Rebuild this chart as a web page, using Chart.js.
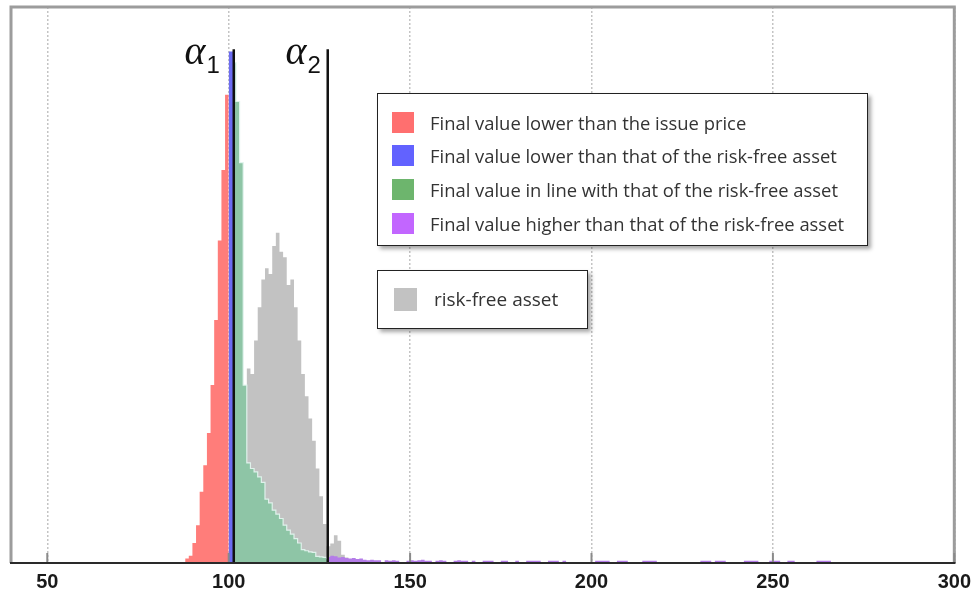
<!DOCTYPE html>
<html>
<head>
<meta charset="utf-8">
<script src="https://cdn.jsdelivr.net/npm/chart.js@4.4.0/dist/chart.umd.min.js"></script>
<style>
  body { margin: 0; background: #fff; }
  #wrap { position: relative; width: 978px; height: 594px; }
  .key { position: absolute; background: #fff; border: 1.5px solid #222; box-shadow: 3px 3px 4px rgba(0,0,0,0.35); font-family: 'Open Sans', sans-serif; color: #333; }
  .row { position: absolute; height: 22px; display: flex; align-items: center; white-space: nowrap; }
  .sw { flex: none; }
</style>
</head>
<body>
<div id="wrap">
  <canvas id="chart" width="978" height="594"></canvas>
  <div id="key1" class="key" style="left:377px;top:93px;width:489px;height:151px"></div>
  <div id="key2" class="key" style="left:377px;top:270px;width:209px;height:57px"></div>
</div>
<script>
const xTicks = [50, 100, 150, 200, 250, 300]
const issuePrice = 100
const alpha1 = 101.4
const alpha2 = 127.3
const alphaTop = 92.4

const seriesLabels = [
  'Final value lower than the issue price',
  'Final value lower than that of the risk-free asset',
  'Final value in line with that of the risk-free asset',
  'Final value higher than that of the risk-free asset'
]
const seriesColors = ['#ff7d7a', '#6c6cf2', '#8ec5a6', '#b47ce8']
const keyColors = ['#ff6f6f', '#6262ff', '#6db56d', '#c266ff']
const riskFreeLabel = 'risk-free asset'
const riskFreeColor = '#c2c2c2'

// histogram bins: left edge of each unit-wide bin and its height
const redBins = [88, 89, 90, 91, 92, 93, 94, 95, 96, 97, 98, 99]
const redCounts = [0.8, 1.3, 3.6, 6.8, 12.8, 17.6, 23.4, 32, 43.7, 58, 70.7, 84.2]

const blueBins = [100, 101]
const blueCounts = [92, 92]

const greenBins = [101, 102, 103, 104, 105, 106, 107, 108, 109, 110, 111, 112, 113, 114,
  115, 116, 117, 118, 119, 120, 121, 122, 123, 124, 125, 126, 127]
const greenCounts = [90, 83, 72, 32, 18, 17, 16.4, 15.5, 14.5, 11.5, 10.8, 9.5, 8.8, 8,
  6.8, 5.9, 5.2, 4.4, 3.6, 2.4, 2.2, 2, 1.9, 1.2, 1.1, 1, 0.8]

const purpleBins = [127, 128, 129, 130, 131, 132, 133, 134, 135, 136, 137, 138, 139, 140, 141,
  143, 144, 145, 146, 149, 150, 151, 152, 153, 154, 155, 157, 158, 159,
  162, 163, 164, 165, 167, 170, 171, 172, 175, 176, 179, 182, 183, 184, 185,
  188, 189, 190, 192, 201, 202, 203, 204, 207, 208, 209, 214, 215, 216, 217,
  230, 231, 232, 234, 235, 236, 242, 243, 244, 245, 249, 250, 251, 254, 255,
  262, 263, 264, 265]
const purpleCounts = [1.1, 1.3, 1.2, 1, 1.1, 0.9, 0.8, 0.9, 0.7, 0.8, 0.6, 0.5, 0.6, 0.5, 0.5,
  0.5, 0.4, 0.5, 0.4, 0.4, 0.5, 0.4, 0.5, 0.6, 0.4, 0.4, 0.4, 0.5, 0.4,
  0.4, 0.5, 0.4, 0.4, 0.4, 0.4, 0.4, 0.4, 0.4, 0.4, 0.4, 0.4, 0.4, 0.4, 0.4,
  0.4, 0.4, 0.4, 0.4, 0.4, 0.4, 0.4, 0.4, 0.4, 0.4, 0.4, 0.4, 0.4, 0.4, 0.4,
  0.4, 0.4, 0.4, 0.4, 0.4, 0.4, 0.4, 0.4, 0.4, 0.4, 0.4, 0.4, 0.4, 0.4, 0.4,
  0.4, 0.4, 0.4, 0.4]

const grayBins = [104, 105, 106, 107, 108, 109, 110, 111, 112, 113, 114, 115, 116, 117, 118,
  119, 120, 121, 122, 123, 124, 125, 126, 127, 128, 129, 130, 131, 132, 133]
const grayCounts = [20, 35, 34, 40, 46, 51, 53, 52, 57, 59.4, 56, 55, 50, 51, 46,
  40, 34, 30, 26, 22, 17, 12, 7, 3, 3.5, 5, 4, 1.5, 1, 0.5]

// turn bins into a stepped outline, clipped to [lo, hi]
function steps(bins, counts, lo, hi) {
  const pts = []
  bins.forEach((b, i) => {
    const x0 = Math.max(lo, b)
    const x1 = Math.min(hi, b + 1)
    if (i === 0 || bins[i - 1] + 1 !== b) pts.push({x: x0, y: 0})
    pts.push({x: x0, y: counts[i]})
    if (i === bins.length - 1 || bins[i + 1] !== b + 1) pts.push({x: x1, y: 0})
  })
  return pts
}

function histo(label, data, color, order, extra) {
  return Object.assign({
    label: label,
    data: data,
    stepped: 'before',
    fill: 'origin',
    backgroundColor: color,
    borderColor: color,
    borderWidth: 0,
    pointRadius: 0,
    order: order
  }, extra || {})
}

function vline(v, order) {
  return {
    label: 'alpha',
    data: [{x: v, y: 0}, {x: v, y: alphaTop}],
    borderColor: '#111',
    borderWidth: 2.5,
    pointRadius: 0,
    fill: false,
    order: order
  }
}

const alphaMarks = [
  {value: alpha1, sub: '1', gap: 14},
  {value: alpha2, sub: '2', gap: 7}
]

const decor = {
  id: 'decor',
  afterDatasetsDraw(chart) {
    const ctx = chart.ctx
    const a = chart.chartArea
    const x = chart.scales.x
    ctx.save()
    // grey frame on top, left and right
    ctx.strokeStyle = '#9c9c9c'
    ctx.lineWidth = 3
    ctx.beginPath()
    ctx.moveTo(a.left, a.bottom)
    ctx.lineTo(a.left, a.top)
    ctx.lineTo(a.right, a.top)
    ctx.lineTo(a.right, a.bottom)
    ctx.stroke()
    // short tick marks standing on the axis
    ctx.strokeStyle = '#8a8a8a'
    ctx.lineWidth = 2
    xTicks.forEach(v => {
      const px = x.getPixelForValue(v)
      ctx.beginPath()
      ctx.moveTo(px, a.bottom)
      ctx.lineTo(px, a.bottom - 10)
      ctx.stroke()
    })
    // alpha labels next to the threshold lines
    ctx.fillStyle = '#111'
    ctx.textBaseline = 'alphabetic'
    alphaMarks.forEach(m => {
      const right = x.getPixelForValue(m.value) - m.gap
      ctx.font = '24px "Liberation Sans", Arial'
      const sw = ctx.measureText(m.sub).width
      ctx.textAlign = 'right'
      ctx.fillText(m.sub, right, 73)
      ctx.font = 'italic 40px "Liberation Serif", serif'
      ctx.fillText('\u03b1', right - sw - 1, 64)
    })
    ctx.restore()
  }
}

const ctx = document.getElementById('chart').getContext('2d')
const chart = new Chart(ctx, {
  type: 'line',
  data: {
    datasets: [
      vline(alpha1, 0),
      vline(alpha2, 0),
      histo(seriesLabels[3], steps(purpleBins, purpleCounts, alpha2, 400), seriesColors[3], 1),
      histo(seriesLabels[1], steps(blueBins, blueCounts, issuePrice, alpha1), seriesColors[1], 2),
      histo(seriesLabels[0], steps(redBins, redCounts, 0, issuePrice), seriesColors[0], 3),
      histo(seriesLabels[2], steps(greenBins, greenCounts, alpha1, alpha2), seriesColors[2], 4,
        {borderColor: 'rgba(226,244,238,0.95)', borderWidth: 1.2}),
      histo(riskFreeLabel, steps(grayBins, grayCounts, 0, 400), riskFreeColor, 5)
    ]
  },
  options: {
    responsive: false,
    animation: false,
    devicePixelRatio: 1,
    layout: { padding: { left: 11, right: 22, top: 7, bottom: -7 } },
    plugins: {
      legend: { display: false },
      tooltip: { enabled: false }
    },
    scales: {
      x: {
        type: 'linear',
        min: 40,
        max: 300,
        afterBuildTicks: s => { s.ticks = xTicks.map(v => ({value: v})) },
        grid: { color: '#c4c4c4', lineWidth: 1.5, drawTicks: false },
        border: { color: '#2a2a2a', width: 2, dash: [2, 2], z: 1 },
        ticks: {
          padding: 7,
          color: '#1a1a1a',
          font: { family: '"Liberation Sans", Arial', size: 20, weight: 'bold' },
          maxRotation: 0
        }
      },
      y: {
        display: false,
        min: 0,
        max: 100
      }
    }
  },
  plugins: [decor]
})

// the two framed keys
function keyRow(box, color, text, top, left, size, gap, fontSize) {
  const row = document.createElement('div')
  row.className = 'row'
  row.style.top = top + 'px'
  row.style.left = left + 'px'
  row.style.fontSize = fontSize + 'px'
  row.innerHTML = '<span class="sw" style="width:' + size[0] + 'px;height:' + size[1] +
    'px;background:' + color + ';margin-right:' + gap + 'px"></span><span>' + text + '</span>'
  box.appendChild(row)
}

const key1 = document.getElementById('key1')
seriesLabels.forEach((label, i) => {
  keyRow(key1, keyColors[i], label, 17 + i * 33.7, 14, [22, 21], 16, 18.4)
})
keyRow(document.getElementById('key2'), riskFreeColor, riskFreeLabel, 17, 16, [23, 23], 17, 19)
</script>
</body>
</html>
